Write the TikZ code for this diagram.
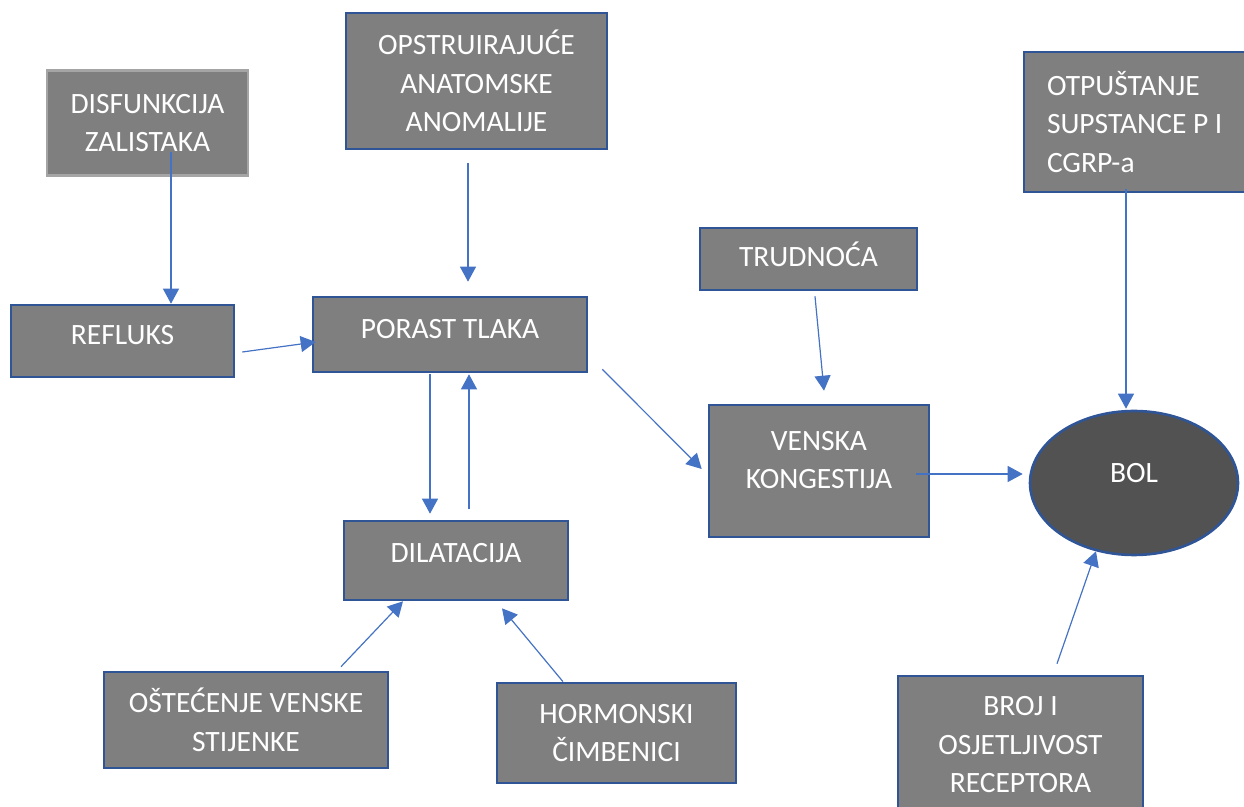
\documentclass[tikz,border=0pt]{standalone}
\usepackage{fontspec}
\setmainfont{Carlito}
\usetikzlibrary{arrows.meta,calc,shapes.geometric}

\definecolor{boxfill}{HTML}{7F7F7F}
\definecolor{boxline}{HTML}{2F5597}
\definecolor{greyline}{HTML}{A5A5A5}
\definecolor{bolfill}{HTML}{525252}
\definecolor{arrowblue}{HTML}{4472C4}

\begin{document}
\begin{tikzpicture}[x=0.5pt,y=-0.5pt,
    >={Triangle[length=7.5pt,width=8pt]},
    box/.style={draw=boxline,line width=1.3pt,fill=boxfill,text=white,align=center,
        inner sep=0pt,font=\fontsize{14.75}{19.25}\selectfont},
    wh/.style 2 args={minimum width=#1*0.5pt,minimum height=#2*0.5pt},
    link/.style={draw=arrowblue,line width=0.6pt}]
    \useasboundingbox (0,0) rectangle (1244,807);

    % causes on the left
    \node[box,wh={201}{105},draw=greyline] (disf) at (147.5,123) {DISFUNKCIJA\\ZALISTAKA};
    \node[box,wh={261}{136}] (opst) at (476.5,81) {OPSTRUIRAJUĆE\\ANATOMSKE\\ANOMALIJE};
    \node[box,wh={223}{72},text depth=6pt]  (refl) at (122.5,341) {REFLUKS};
    \node[box,wh={274}{75},text depth=6pt]  (porast) at (450,334.5) {PORAST TLAKA};
    \node[box,wh={224}{79},text depth=8pt]  (dil) at (456,560.5) {DILATACIJA};
    \node[box,wh={284}{96}]  (ost) at (246,720) {OŠTEĆENJE VENSKE\\STIJENKE};
    \node[box,wh={239}{100}] (horm) at (616.5,733) {HORMONSKI\\ČIMBENICI};

    % right part
    \node[box,wh={217}{62},text depth=5pt]  (trud) at (808.5,259) {TRUDNOĆA};
    \node[box,wh={220}{132},text depth=11pt] (venska) at (819,471) {VENSKA\\KONGESTIJA};
    \node[box,minimum height=70pt,text width=110pt,inner xsep=11.5pt,align=flush left] (otp) at (1157,122)
        {OTPUŠTANJE\\SUPSTANCE P I\\CGRP-a};
    \node[box,ellipse,wh={208}{144},fill=bolfill,text depth=10pt] (bol) at (1134,483) {BOL};
    \node[box,wh={245}{138}] (broj) at (1020.5,745) {BROJ I\\OSJETLJIVOST\\RECEPTORA};

    \draw[link,->] ($(disf.south)+(23.5,-25)$) -- ($(refl.north)+(48.5,0)$);
    \draw[link,->] ($(refl.east)+(7,11)$) -- ($(porast.west)+(4,7.5)$);
    \draw[link,->] ($(opst.south)+(-8.5,13)$) -- ($(porast.north)+(18,-14)$);
    \draw[link,->] ($(porast.south)+(-20,1)$) -- ($(dil.north)+(-26,-6)$);
    \draw[link,->] ($(dil.north)+(13,-11)$) -- ($(porast.south)+(19,1)$);
    \draw[link,->] ($(ost.north)+(95,-4)$) -- ($(dil.south)+(-53,0)$);
    \draw[link,->] ($(horm.north)+(-53.5,0)$) -- ($(dil.south)+(46,7)$);
    \draw[link,->] ($(porast.south east)+(14,-4)$) -- ($(venska.west)+(-6,-2)$);
    \draw[link,->] ($(trud.south)+(6.5,5)$) -- ($(venska.north)+(5,-13)$);
    \draw[link,->] ($(venska.east)+(-14,3)$) -- ($(bol.west)+(-6,-9)$);
    \draw[link,->] ($(otp.south)+(-31,-4)$) -- ($(bol.north)+(-8,-1)$);
    \draw[link,->] ($(broj.north)+(36.5,-11)$) -- ($(bol.south)+(-38,-5)$);
\end{tikzpicture}
\end{document}
